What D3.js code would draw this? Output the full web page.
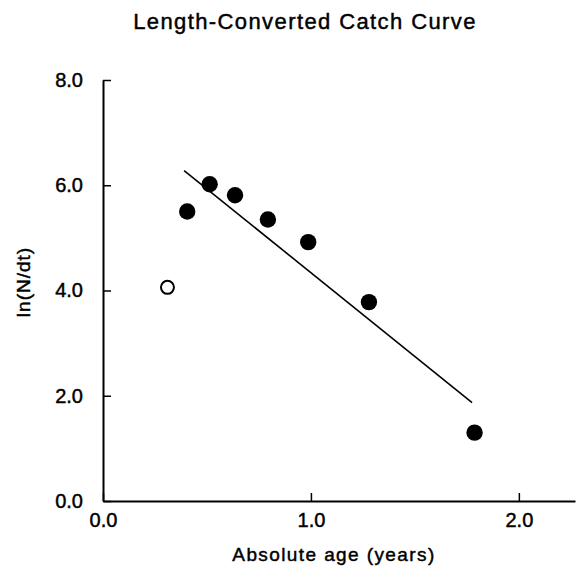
<!DOCTYPE html>
<html>
<head>
<meta charset="utf-8">
<script src="https://cdn.jsdelivr.net/npm/d3@7"></script>
<style>
  html, body { margin: 0; padding: 0; background: #fff; }
  svg { display: block; }
  text { font-family: "Liberation Sans", Arial, Helvetica, sans-serif; fill: #000; stroke: #000; stroke-width: 0.45px; }
</style>
</head>
<body>
<svg id="chart" width="576" height="568"></svg>
<script>
// Catch-curve observations: relative age (years) vs ln(N/dt)
const ages = [0.31, 0.405, 0.513, 0.635, 0.793, 0.987, 1.279, 1.787];
const lnNdt = [4.06, 5.50, 6.02, 5.81, 5.35, 4.92, 3.78, 1.30];
// Points used in the regression are filled; excluded ones are open
const usedInFit = [false, true, true, true, true, true, true, true];

// Fitted regression line, drawn between its two end ages
const fitAges = [0.39, 1.775];
const fitLn = [6.28, 1.87];

// Axis ticks
const xTicks = [0, 1, 2];
const yTicks = [0, 2, 4, 6, 8];

const svg = d3.select("#chart");

const x = d3.scaleLinear().domain([0, 2.27]).range([103, 575]);
const y = d3.scaleLinear().domain([0, 8]).range([501, 80]);

// Title
svg.append("text")
  .attr("x", 305).attr("y", 29)
  .attr("text-anchor", "middle")
  .style("font-size", "22px")
  .style("letter-spacing", "1.4px")
  .text("Length-Converted Catch Curve");

// X axis (ticks point inward)
const xAxis = svg.append("g")
  .attr("transform", `translate(0,${y(0)})`)
  .call(d3.axisBottom(x).tickValues(xTicks).tickFormat(d3.format(".1f"))
    .tickSizeInner(-8).tickSizeOuter(0).tickPadding(12));
xAxis.select(".domain").attr("stroke", "#000").attr("stroke-width", 2);
xAxis.selectAll(".tick line").attr("stroke", "#000").attr("stroke-width", 1.5);
xAxis.selectAll(".tick text").style("font-size", "20px").attr("font-family", null).attr("fill", null);

// Y axis
const yAxis = svg.append("g")
  .attr("transform", `translate(${x(0)},0)`)
  .call(d3.axisLeft(y).tickValues(yTicks).tickFormat(d3.format(".1f"))
    .tickSizeInner(-8).tickSizeOuter(0).tickPadding(20));
yAxis.select(".domain").attr("stroke", "#000").attr("stroke-width", 2);
yAxis.selectAll(".tick line").attr("stroke", "#000").attr("stroke-width", 1.5);
yAxis.selectAll(".tick text").style("font-size", "20px").attr("font-family", null).attr("fill", null);

// Axis titles
svg.append("text")
  .attr("x", 334).attr("y", 561)
  .attr("text-anchor", "middle")
  .style("font-size", "19px")
  .style("letter-spacing", "1.4px")
  .text("Absolute age (years)");

svg.append("text")
  .attr("transform", `translate(30,282) rotate(-90)`)
  .attr("text-anchor", "middle")
  .style("font-size", "19px")
  .style("letter-spacing", "1px")
  .text("ln(N/dt)");

// Regression line
svg.append("path")
  .datum(fitAges.map((a, i) => [a, fitLn[i]]))
  .attr("fill", "none")
  .attr("stroke", "#000")
  .attr("stroke-width", 1.6)
  .attr("d", d3.line().x(d => x(d[0])).y(d => y(d[1])));

// Observations
const pts = ages.map((a, i) => ({ age: a, v: lnNdt[i], used: usedInFit[i] }));
svg.append("g").selectAll("circle")
  .data(pts)
  .join("circle")
  .attr("cx", d => x(d.age))
  .attr("cy", d => y(d.v))
  .attr("r", d => d.used ? 8.2 : 6.5)
  .attr("fill", d => d.used ? "#000" : "#fff")
  .attr("stroke", "#000")
  .attr("stroke-width", d => d.used ? 0 : 2);
</script>
</body>
</html>
